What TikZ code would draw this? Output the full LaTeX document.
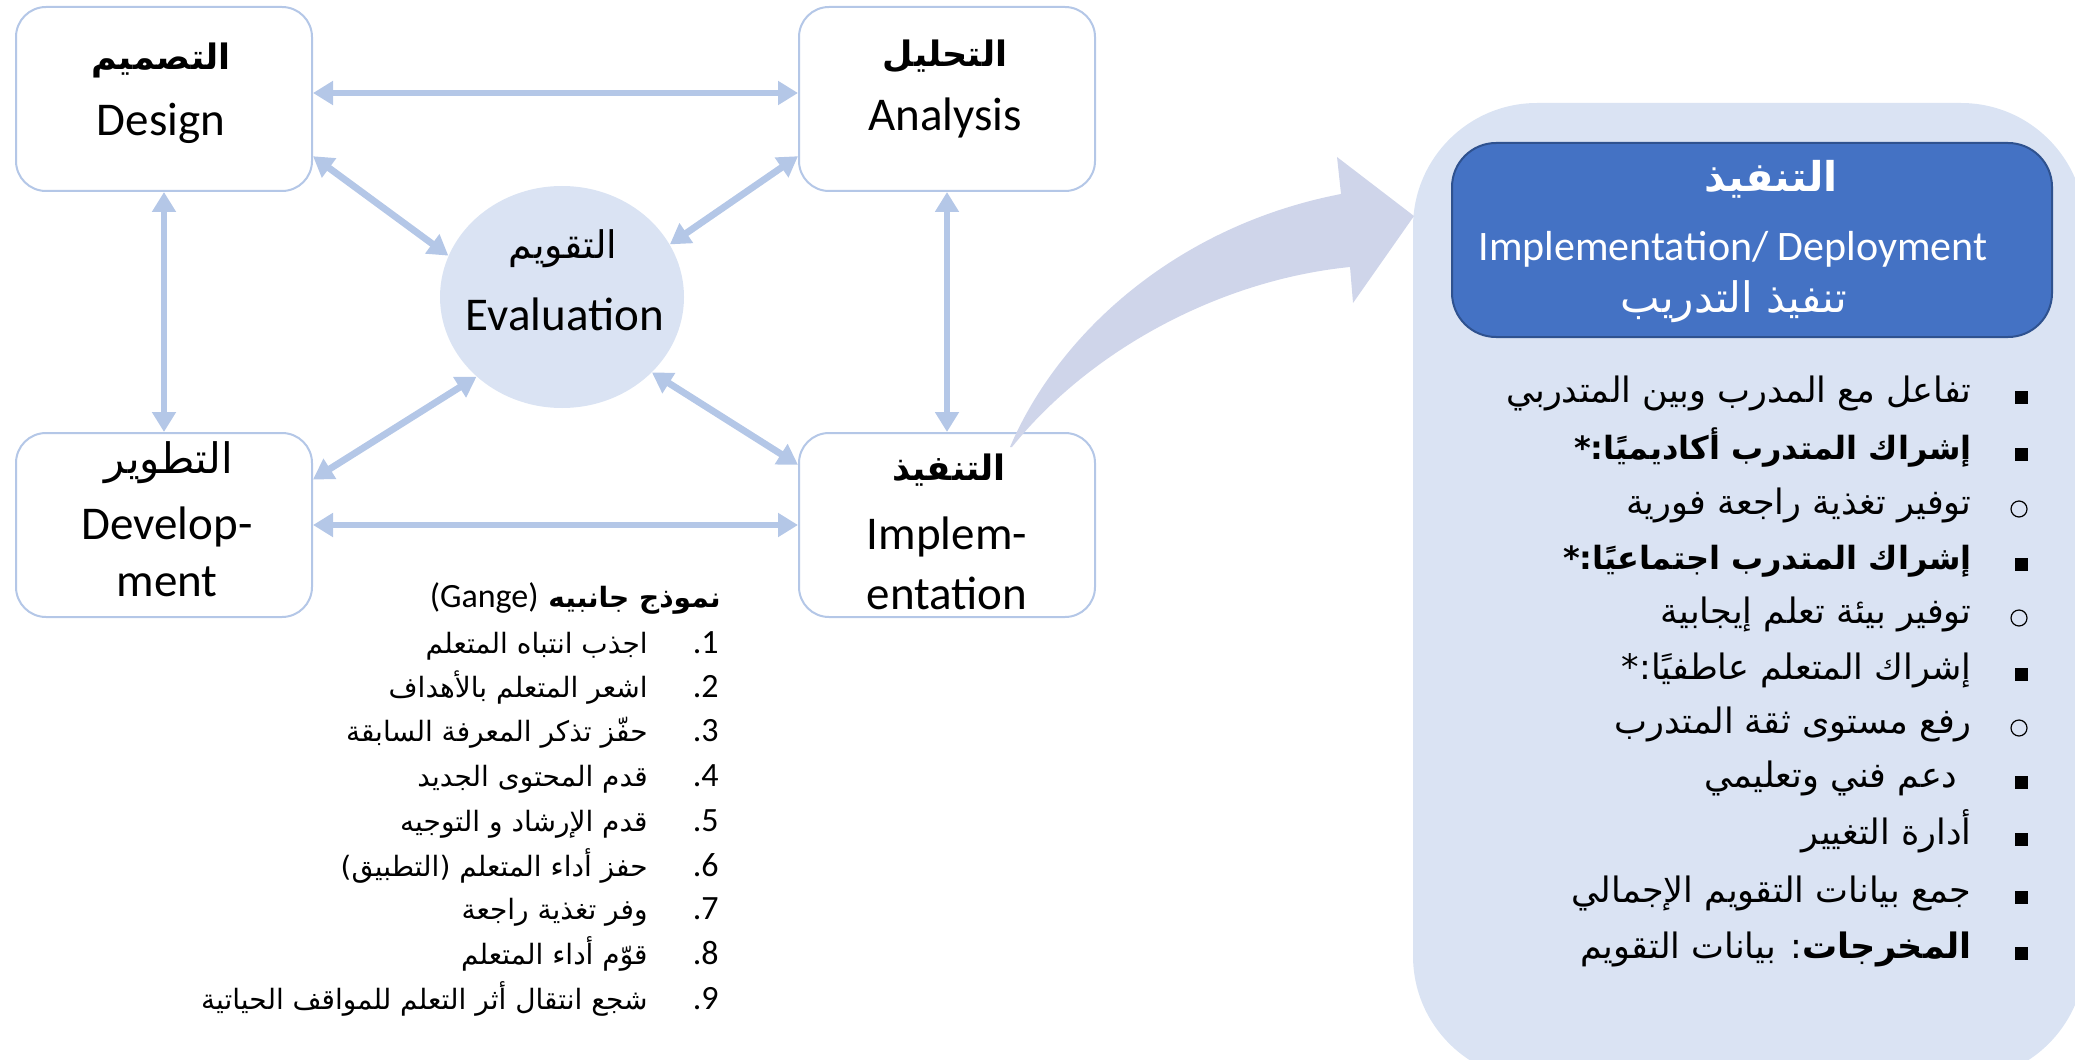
\documentclass[tikz,border=0pt]{standalone}
\usepackage{fontspec}
\setmainfont{Carlito}
\newfontfamily\arabicfont[Script=Arabic]{DejaVu Sans}
\TeXXeTstate=1
\usetikzlibrary{arrows.meta,shapes.geometric}

\definecolor{lineblue}{HTML}{B4C7E7}
\definecolor{paleblue}{HTML}{DAE3F3}
\definecolor{arrowblue}{HTML}{CFD5EA}
\definecolor{headblue}{HTML}{4472C4}
\definecolor{headedge}{HTML}{2F528F}

\begin{document}
\begin{tikzpicture}
[x=0.5pt, y=-0.5pt,
phase/.style={rectangle, rounded corners=15pt, draw=lineblue, line width=1pt, fill=white, minimum width=148pt, minimum height=92pt, inner sep=0pt},
evalnode/.style={ellipse, fill=paleblue, minimum width=122pt, minimum height=111pt, inner sep=0pt},
link/.style={draw=lineblue, line width=3.4pt, {Triangle[length=10pt,width=11.5pt]}-{Triangle[length=10pt,width=11.5pt]}},
entxt/.style={inner sep=0pt, font=\fontsize{23.5}{28}\selectfont},
artitle/.style={inner sep=0pt, font=\arabicfont\bfseries\fontsize{17.5}{21}\selectfont},
arplain/.style={inner sep=0pt, font=\arabicfont\fontsize{19}{23}\selectfont},
gagne/.style={inner sep=0pt, anchor=east, text height=0.75em, text depth=0.25em, font=\arabicfont\fontsize{14}{17}\selectfont},
gnum/.style={inner sep=0pt, anchor=east, text height=0.75em, text depth=0.25em, font=\fontsize{17}{20}\selectfont},
item/.style={inner sep=0pt, anchor=east, text height=0.75em, text depth=0.25em, font=\arabicfont\fontsize{17.5}{21}\selectfont},
bolditem/.style={item, font=\arabicfont\bfseries\fontsize{16}{19}\selectfont},
boxbullet/.style={rectangle, fill=black, inner sep=0pt, minimum size=6.5pt},
ringbullet/.style={circle, draw=black, line width=0.6pt, inner sep=0pt, minimum size=8pt}
]
\useasboundingbox (0,0) rectangle (2075,1059);

% the four phases and evaluation
\node[phase] (design) at (164,99) {};
\node[phase] (analysis) at (947,99) {};
\node[phase] (develop) at (164,525) {};
\node[phase] (implement) at (947,525) {};
\node[evalnode] (eval) at (562,297) {};

\node[artitle] (designar) at (161,60) {\beginR التصميم\endR};
\node[entxt] (designen) at (161,123) {Design};
\node[artitle] (analysisar) at (945,56) {\beginR التحليل\endR};
\node[entxt] (analysisen) at (945,118) {Analysis};
\node[arplain, font=\arabicfont\fontsize{21}{25}\selectfont] (developar) at (169,463) {\beginR التطوير\endR};
\node[entxt] (developen1) at (167,527) {Develop-};
\node[entxt] (developen2) at (167,582) {ment};
\node[artitle] (implementar) at (949,470) {\beginR التنفيذ\endR};
\node[entxt] (implementen1) at (947,537) {Implem-};
\node[entxt] (implementen2) at (947,593) {entation};
\node[arplain] (evalar) at (563,249) {\beginR التقويم\endR};
\node[entxt] (evalen) at (565,314) {Evaluation};

% links
\path[link] ([yshift=3pt]design.east) -- ([yshift=3pt]analysis.west);
\path[link] (develop.east) -- (implement.west);
\path[link] (design.south) -- (develop.north);
\path[link] (analysis.south) -- (implement.north);
\path[link] (design.-21) -- (eval.160);
\path[link] (analysis.201) -- (eval.26);
\path[link] (develop.17) -- (eval.223);
\path[link] (implement.158) -- (eval.-40);

% Gagne model
\node[gagne, font=\arabicfont\bfseries\fontsize{14}{17}\selectfont] (gagnehead) at (721,602) {\beginR نموذج جانبيه \beginL{\rmfamily\mdseries\fontsize{17}{20}\selectfont(Gange)}\endL\endR};
\node[gnum] (n1) at (719,648) {.1};
\node[gnum] (n2) at (719,692) {.2};
\node[gnum] (n3) at (719,736) {.3};
\node[gnum] (n4) at (719,781) {.4};
\node[gnum] (n5) at (719,826) {.5};
\node[gnum] (n6) at (719,871) {.6};
\node[gnum] (n7) at (719,914) {.7};
\node[gnum] (n8) at (719,959) {.8};
\node[gnum] (n9) at (719,1004) {.9};
\node[gagne] (g1) at (648,648) {\beginR اجذب انتباه المتعلم\endR};
\node[gagne] (g2) at (648,692) {\beginR اشعر المتعلم بالأهداف\endR};
\node[gagne] (g3) at (648,736) {\beginR حفّز تذكر المعرفة السابقة\endR};
\node[gagne] (g4) at (648,781) {\beginR قدم المحتوى الجديد\endR};
\node[gagne] (g5) at (648,826) {\beginR قدم الإرشاد و التوجيه\endR};
\node[gagne] (g6) at (648,871) {\beginR حفز أداء المتعلم (التطبيق)\endR};
\node[gagne] (g7) at (648,914) {\beginR وفر تغذية راجعة\endR};
\node[gagne] (g8) at (648,959) {\beginR قوّم أداء المتعلم\endR};
\node[gagne] (g9) at (648,1004) {\beginR شجع انتقال أثر التعلم للمواقف الحياتية\endR};

% implementation panel
\fill[paleblue, rounded corners=62pt] (1413,103) rectangle (2085,1080);
\fill[arrowblue] (1010,447) .. controls (1060,330) and (1180,225) .. (1341,194)
  -- (1337,157) -- (1414,216) -- (1353,303) -- (1350,267)
  .. controls (1220,280) and (1090,350) .. (1012,447) -- cycle;
\node[rectangle, rounded corners=22pt, fill=headblue, draw=headedge, line width=1pt, minimum width=300pt, minimum height=97pt] (head) at (1752,240) {};
\node[artitle, text=white, font=\arabicfont\bfseries\fontsize{20.5}{24}\selectfont] (headar) at (1771,179) {\beginR التنفيذ\endR};
\node[entxt, text=white, font=\fontsize{21}{25}\selectfont] (headen) at (1733,249) {Implementation/ Deployment};
\node[arplain, text=white, font=\arabicfont\fontsize{21}{25}\selectfont] (headsub) at (1734,302) {\beginR تنفيذ التدريب\endR};

\node[boxbullet] (b1) at (2021,397) {};
\node[boxbullet] (b2) at (2021,454) {};
\node[ringbullet] (b3) at (2019,509) {};
\node[boxbullet] (b4) at (2021,564) {};
\node[ringbullet] (b5) at (2019,618) {};
\node[boxbullet] (b6) at (2021,674) {};
\node[ringbullet] (b7) at (2019,728) {};
\node[boxbullet] (b8) at (2021,782) {};
\node[boxbullet] (b9) at (2021,839) {};
\node[boxbullet] (b10) at (2021,897) {};
\node[boxbullet] (b11) at (2021,953) {};

\node[item] (i1) at (1972,397) {\beginR تفاعل مع المدرب وبين المتدربي\endR};
\node[bolditem] (i2) at (1972,454) {\beginR إشراك المتدرب أكاديميًا:*\endR};
\node[item] (i3) at (1972,509) {\beginR توفير تغذية راجعة فورية\endR};
\node[bolditem] (i4) at (1972,564) {\beginR إشراك المتدرب اجتماعيًا:*\endR};
\node[item] (i5) at (1972,618) {\beginR توفير بيئة تعلم إيجابية\endR};
\node[item] (i6) at (1972,674) {\beginR إشراك المتعلم عاطفيًا:*\endR};
\node[item] (i7) at (1972,728) {\beginR رفع مستوى ثقة المتدرب\endR};
\node[item] (i8) at (1958,782) {\beginR دعم فني وتعليمي\endR};
\node[item] (i9) at (1972,839) {\beginR أدارة التغيير\endR};
\node[item] (i10) at (1972,897) {\beginR جمع بيانات التقويم الإجمالي\endR};
\node[item] (i11) at (1972,953) {\beginR{\bfseries المخرجات}: بيانات التقويم\endR};
\end{tikzpicture}
\end{document}
